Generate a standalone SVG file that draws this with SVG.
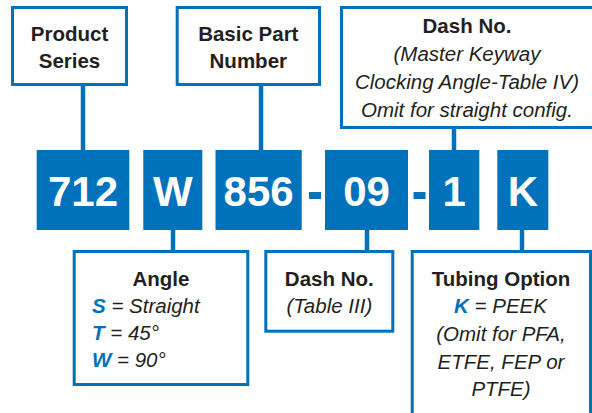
<svg xmlns="http://www.w3.org/2000/svg" width="592" height="413" viewBox="0 0 592 413">
<style>
.box{fill:#fff;stroke:#0072BC;stroke-width:3}
.blk{fill:#0072BC}
.con{stroke:#0072BC;stroke-width:4.5;fill:none}
.hd{font-family:"Liberation Sans",Arial,sans-serif;font-size:20.5px;font-weight:bold;fill:#231F20;text-anchor:middle}
.it{font-family:"Liberation Sans",Arial,sans-serif;font-size:20.5px;font-style:italic;fill:#231F20}
.c{text-anchor:middle}
.bl{fill:#0072BC;font-weight:bold}
.dg{font-family:"Liberation Sans",Arial,sans-serif;font-size:42px;font-weight:bold;fill:#fff;text-anchor:middle}
</style>
<rect width="592" height="413" fill="#fff"/>
<g id="connectors">
<line class="con" x1="83" y1="86" x2="83" y2="150"/>
<line class="con" x1="261" y1="86" x2="261" y2="150"/>
<line class="con" x1="454" y1="128" x2="454" y2="150"/>
<line class="con" x1="173" y1="230" x2="173" y2="251"/>
<line class="con" x1="367" y1="230" x2="367" y2="251"/>
<line class="con" x1="522" y1="230" x2="522" y2="251"/>
</g>
<g id="product-series">
<rect class="box" x="12.5" y="7.5" width="114" height="77"/>
<text class="hd" x="69.5" y="41">Product</text>
<text class="hd" x="69.5" y="68">Series</text>
</g>
<g id="basic-part-number">
<rect class="box" x="177.2" y="7.5" width="142.3" height="77"/>
<text class="hd" x="248.3" y="41">Basic Part</text>
<text class="hd" x="248.3" y="68">Number</text>
</g>
<g id="dash-no-keyway">
<rect class="box" x="341.5" y="7.5" width="260" height="120"/>
<text class="hd" x="467" y="33">Dash No.</text>
<text class="it c" x="467" y="61">(Master Keyway</text>
<text class="it c" x="467" y="89">Clocking Angle-Table IV)</text>
<text class="it c" x="467" y="117">Omit for straight config.</text>
</g>
<g id="seg-712">
<rect class="blk" x="36.7" y="150" width="92.6" height="80"/>
<text class="dg" x="83" y="206">712</text>
</g>
<g id="seg-W">
<rect class="blk" x="143.3" y="150" width="59" height="80"/>
<text class="dg" x="172.8" y="206">W</text>
</g>
<g id="seg-856">
<rect class="blk" x="215.5" y="150" width="86.2" height="80"/>
<text class="dg" x="258.6" y="206">856</text>
</g>
<g id="dash-1">
<rect class="blk" x="309" y="192" width="12" height="7"/>
</g>
<g id="seg-09">
<rect class="blk" x="325" y="150" width="83" height="80"/>
<text class="dg" x="366.5" y="206">09</text>
</g>
<g id="dash-2">
<rect class="blk" x="413.5" y="192" width="12" height="7"/>
</g>
<g id="seg-1">
<rect class="blk" x="429" y="150" width="50.3" height="80"/>
<text class="dg" x="454.2" y="206">1</text>
</g>
<g id="seg-K">
<rect class="blk" x="497.3" y="150" width="51" height="80"/>
<text class="dg" x="522.8" y="206">K</text>
</g>
<g id="angle">
<rect class="box" x="74.2" y="251.5" width="173.6" height="133"/>
<text class="hd" x="161" y="285.5">Angle</text>
<text class="it" x="92" y="313"><tspan class="bl">S</tspan> = Straight</text>
<text class="it" x="92" y="340"><tspan class="bl">T</tspan> = 45°</text>
<text class="it" x="92" y="367"><tspan class="bl">W</tspan> = 90°</text>
</g>
<g id="dash-no-table">
<rect class="box" x="265.8" y="251.5" width="127" height="79.7"/>
<text class="hd" x="329.3" y="285.5">Dash No.</text>
<text class="it c" x="329.3" y="312.5">(Table III)</text>
</g>
<g id="tubing-option">
<rect class="box" x="412.2" y="251.5" width="178.3" height="180"/>
<text class="hd" x="501" y="285.5">Tubing Option</text>
<text class="it c" x="500.5" y="313"><tspan class="bl">K</tspan> = PEEK</text>
<text class="it c" x="501" y="341">(Omit for PFA,</text>
<text class="it c" x="501" y="368.5">ETFE, FEP or</text>
<text class="it c" x="501" y="396">PTFE)</text>
</g>
</svg>
